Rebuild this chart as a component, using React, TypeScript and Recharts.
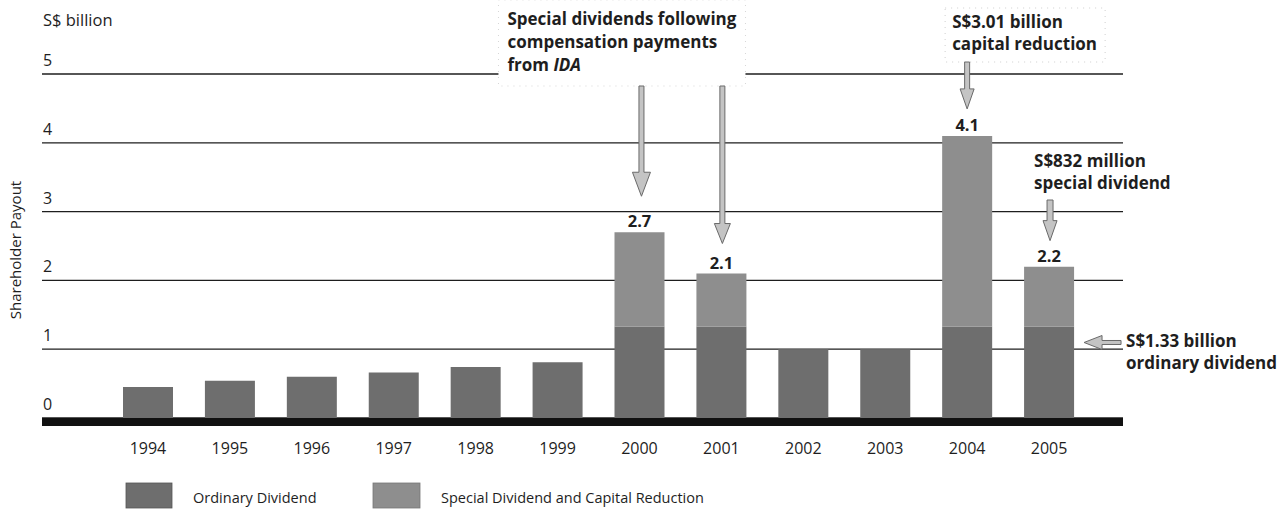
import React from 'react';
import { BarChart, Bar, XAxis, YAxis, CartesianGrid, ReferenceLine, ReferenceDot, LabelList } from 'recharts';

const years = ['1994', '1995', '1996', '1997', '1998', '1999', '2000', '2001', '2002', '2003', '2004', '2005'];
const ordinaryDividend = [0.45, 0.54, 0.6, 0.66, 0.74, 0.81, 1.33, 1.33, 1.0, 1.0, 1.33, 1.33];
const specialDividend = [0, 0, 0, 0, 0, 0, 1.37, 0.77, 0, 0, 2.77, 0.87];
const totalLabels = ['', '', '', '', '', '', '2.7', '2.1', '', '', '4.1', '2.2'];
const yTicks = [0, 1, 2, 3, 4, 5];

const data = years.map((year, i) => ({
  year,
  ordinary: ordinaryDividend[i],
  special: specialDividend[i],
  label: totalLabels[i],
}));

const FONT = '"Open Sans", "Noto Sans", sans-serif';
const ORD = '#6e6e6e';
const SPE = '#8e8e8e';
const TXT = '#1e1e1e';

const downArrow = (x: number, yTop: number, yTip: number, sw: number, hw: number, hh: number) => {
  const pts = [
    [x - sw / 2, yTop], [x + sw / 2, yTop], [x + sw / 2, yTip - hh], [x + hw / 2, yTip - hh],
    [x, yTip], [x - hw / 2, yTip - hh], [x - sw / 2, yTip - hh],
  ].map((p) => p.join(',')).join(' ');
  return <polygon points={pts} fill="#c4c4c4" stroke="#6a6a6a" strokeWidth={1} />;
};

const leftArrow = (xTip: number, y: number, xEnd: number, sw: number, hw: number, hl: number) => {
  const pts = [
    [xTip, y], [xTip + hl, y - hw / 2], [xTip + hl, y - sw / 2], [xEnd, y - sw / 2],
    [xEnd, y + sw / 2], [xTip + hl, y + sw / 2], [xTip + hl, y + hw / 2],
  ].map((p) => p.join(',')).join(' ');
  return <polygon points={pts} fill="#c4c4c4" stroke="#6a6a6a" strokeWidth={1} />;
};

const boldText = { fontFamily: FONT, fontWeight: 700, fontSize: 17, fill: TXT } as const;

const IdaAnnotation = (p: any) => {
  const { cx, cy } = p;
  return (
    <g>
      <rect x={cx - 141} y={0} width={247} height={86} fill="#ffffff" stroke="#d6d6d6" strokeDasharray="1 5" />
      <text x={cx - 132} y={25} {...boldText}>Special dividends following</text>
      <text x={cx - 132} y={48} {...boldText}>compensation payments</text>
      <text x={cx - 132} y={71} {...boldText}>from <tspan fontStyle="italic">IDA</tspan></text>
      {downArrow(cx + 2, 86, cy - 36, 5, 18, 24)}
    </g>
  );
};

const Ida2001Arrow = (p: any) => {
  const { cx, cy } = p;
  return <g>{downArrow(cx + 1, 86, cy - 30, 5, 16, 20)}</g>;
};

const CapitalReduction = (p: any) => {
  const { cx, cy } = p;
  return (
    <g>
      <rect x={cx - 22} y={8} width={160} height={54} fill="none" stroke="#cfcfcf" strokeDasharray="1 5" />
      <text x={cx - 15} y={28} {...boldText}>S$3.01 billion</text>
      <text x={cx - 15} y={50} {...boldText}>capital reduction</text>
      {downArrow(cx, 62, cy - 27, 5, 14, 20)}
    </g>
  );
};

const SpecialDividend = (p: any) => {
  const { cx, cy } = p;
  return (
    <g>
      <text x={cx - 15} y={167} {...boldText}>S$832 million</text>
      <text x={cx - 15} y={189} {...boldText}>special dividend</text>
      {downArrow(cx + 1, 200, cy - 26, 6, 14, 20)}
    </g>
  );
};

const OrdinaryDividendNote = (p: any) => {
  const { cx, cy } = p;
  return (
    <g>
      {leftArrow(cx + 35, cy + 16, cx + 72, 4, 14, 18)}
      <text x={cx + 77} y={cy + 21} {...boldText}>S$1.33 billion</text>
      <text x={cx + 77} y={cy + 43} {...boldText}>ordinary dividend</text>
    </g>
  );
};

const YTick = (p: any) => {
  const { y, payload } = p;
  return (
    <text x={43} y={y - 8} fontFamily={FONT} fontSize={16} fill={TXT}>{payload.value}</text>
  );
};

const XTick = (p: any) => {
  const { x, y, payload } = p;
  return (
    <text x={x} y={y + 36} textAnchor="middle" fontFamily={FONT} fontSize={16} fill={TXT}>{payload.value}</text>
  );
};

const TotalLabel = (p: any) => {
  const { x, y, width, value } = p;
  if (!value) return null;
  return (
    <text x={x + width / 2} y={y - 5} textAnchor="middle" {...boldText} fontSize={16.5}>{value}</text>
  );
};

const Baseline = (p: any) => {
  const { x1, y1, x2 } = p;
  return <rect x={Math.min(x1, x2)} y={y1} width={Math.abs(x2 - x1)} height={8} fill="#111111" />;
};

export default function App() {
  return (
    <div style={{ position: 'absolute', left: 0, top: 0, width: 1286, height: 514, background: '#fff' }}>
      <BarChart
        width={1286}
        height={514}
        data={data}
        margin={{ top: 74, right: 163, left: 2, bottom: 66 }}
        barCategoryGap={0}
      >
        <CartesianGrid vertical={false} stroke="#1e1e1e" strokeWidth={1.3} />
        <YAxis
          domain={[0, 5]}
          ticks={yTicks}
          width={40}
          axisLine={false}
          tickLine={false}
          tick={<YTick />}
          interval={0}
        />
        <XAxis
          dataKey="year"
          height={30}
          axisLine={false}
          tickLine={false}
          tickSize={0}
          tickMargin={0}
          padding={{ left: 65, right: 33 }}
          tick={<XTick />}
          interval={0}
        />
        <Bar dataKey="ordinary" stackId="a" fill={ORD} barSize={50} isAnimationActive={false} />
        <Bar dataKey="special" stackId="a" fill={SPE} barSize={50} isAnimationActive={false}>
          <LabelList dataKey="label" content={<TotalLabel />} />
        </Bar>
        <ReferenceLine y={0} shape={<Baseline />} />
        <ReferenceDot x="2000" y={2.7} r={0} shape={<IdaAnnotation />} />
        <ReferenceDot x="2001" y={2.1} r={0} shape={<Ida2001Arrow />} />
        <ReferenceDot x="2004" y={4.1} r={0} shape={<CapitalReduction />} />
        <ReferenceDot x="2005" y={2.2} r={0} shape={<SpecialDividend />} />
        <ReferenceDot x="2005" y={1.33} r={0} shape={<OrdinaryDividendNote />} />
      </BarChart>
      <svg width={1286} height={514} style={{ position: 'absolute', left: 0, top: 0, pointerEvents: 'none' }}>
        <text x={43} y={26} fontFamily={FONT} fontSize={16.5} fill={TXT}>S$ billion</text>
        <text
          x={21}
          y={250}
          transform="rotate(-90 21 250)"
          textAnchor="middle"
          fontFamily={FONT}
          fontSize={15}
          fill={TXT}
        >
          Shareholder Payout
        </text>
        <rect x={126} y={483} width={46} height={25} fill={ORD} stroke="#555" strokeWidth={0.8} />
        <text x={193} y={503} fontFamily={FONT} fontSize={14.5} fill={TXT}>Ordinary Dividend</text>
        <rect x={373} y={483} width={47} height={25} fill={SPE} stroke="#777" strokeWidth={0.8} />
        <text x={441} y={503} fontFamily={FONT} fontSize={14.5} fill={TXT}>Special Dividend and Capital Reduction</text>
      </svg>
    </div>
  );
}
